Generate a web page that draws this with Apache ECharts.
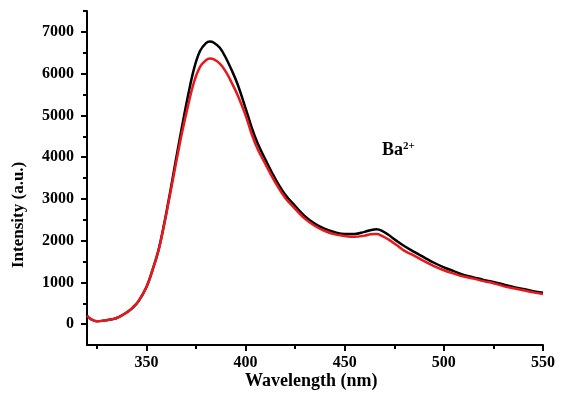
<!DOCTYPE html>
<html>
<head>
<meta charset="utf-8">
<script src="https://cdn.jsdelivr.net/npm/echarts@6/dist/echarts.min.js"></script>
<style>html,body{margin:0;padding:0;background:#fff;}#c{width:561px;height:396px;}</style>
</head>
<body>
<div id="c"></div>
<script>
var wavelengths = [320,322,325,328,330,333,336,340,343,346,350,353,356,359,362,365,368,371,374,377,380,382,384,387,390,393,396,400,403,406,410,415,420,425,430,435,440,445,450,455,460,463,466,469,472,476,480,485,490,495,500,505,510,515,520,525,530,535,540,545,550];
var redSeries = [200,120,70,80,95,120,170,280,390,550,890,1290,1750,2400,3130,3880,4600,5240,5800,6160,6320,6360,6340,6240,6050,5780,5480,5000,4560,4200,3830,3390,3020,2760,2520,2350,2230,2150,2110,2090,2120,2150,2160,2110,2030,1900,1760,1640,1510,1390,1290,1210,1140,1090,1030,980,910,860,810,760,720];
var blackSeries = [200,120,70,80,95,120,170,280,390,550,890,1290,1760,2420,3180,3980,4750,5480,6120,6540,6730,6770,6740,6620,6380,6080,5740,5170,4720,4340,3940,3480,3100,2830,2580,2400,2280,2200,2160,2160,2210,2250,2270,2230,2140,2000,1870,1730,1600,1470,1360,1270,1180,1120,1060,1010,950,890,840,790,750];
var xMajorTicks = [350,400,450,500,550];
var xMinorTicks = [325,375,425,475,525];
var yMajorTicks = [0,1000,2000,3000,4000,5000,6000,7000];
var yMinorTicks = [500,1500,2500,3500,4500,5500,6500,7500];

var FONT = '"Times New Roman","Liberation Serif",serif';
function pairs(ys){ return wavelengths.map(function(x,i){ return [x, ys[i]]; }); }
function plain(v){ return String(v); }

var chart = echarts.init(document.getElementById('c'), null, {renderer:'canvas'});
var axisLineStyle = {show:true, onZero:false, lineStyle:{color:'#000', width:2}};
chart.setOption({
  backgroundColor:'#fff',
  animation:false,
  grid:{left:87, right:18, top:11, bottom:51},
  xAxis:[{
    type:'value', min:320, max:550,
    axisLine:axisLineStyle,
    axisTick:{show:true, customValues:xMajorTicks, length:6, lineStyle:{color:'#000', width:2}},
    axisLabel:{customValues:xMajorTicks, formatter:plain, margin:10, color:'#000', fontFamily:FONT, fontWeight:'bold', fontSize:16},
    splitLine:{show:false}
  },{
    type:'value', min:320, max:550, gridIndex:0, position:'bottom',
    axisLine:{show:false, onZero:false},
    axisTick:{show:true, customValues:xMinorTicks, length:4, lineStyle:{color:'#000', width:2}},
    axisLabel:{show:false},
    splitLine:{show:false}
  }],
  yAxis:[{
    type:'value', min:-500, max:7500,
    axisLine:axisLineStyle,
    axisTick:{show:true, customValues:yMajorTicks, length:6, lineStyle:{color:'#000', width:2}},
    axisLabel:{customValues:yMajorTicks, formatter:plain, margin:13, color:'#000', fontFamily:FONT, fontWeight:'bold', fontSize:16},
    splitLine:{show:false}
  },{
    type:'value', min:-500, max:7500, gridIndex:0, position:'left',
    axisLine:{show:false, onZero:false},
    axisTick:{show:true, customValues:yMinorTicks, length:4, lineStyle:{color:'#000', width:2}},
    axisLabel:{show:false},
    splitLine:{show:false}
  }],
  graphic:[
    {type:'text', left:311-66, top:372, style:{text:'Wavelength (nm)', font:'bold 18px '+FONT, fill:'#000'}},
    {type:'text', x:10, y:268, rotation:Math.PI/2, style:{text:'Intensity (a.u.)', font:'bold 17px '+FONT, fill:'#000', textVerticalAlign:'top'}},
    {type:'text', left:382, top:141, style:{text:'{a|Ba}{b|2+}', rich:{a:{font:'bold 18px '+FONT, fill:'#000'}, b:{font:'bold 11px '+FONT, fill:'#000', verticalAlign:'top', padding:[0,0,8,0]}}}}
  ],
  series:[
    {type:'line', name:'black', data:pairs(blackSeries), showSymbol:false, smooth:0.4, lineStyle:{color:'#000', width:2.5}, xAxisIndex:0, yAxisIndex:0, z:2},
    {type:'line', name:'red', data:pairs(redSeries), showSymbol:false, smooth:0.4, lineStyle:{color:'#e8191c', width:2.5}, xAxisIndex:0, yAxisIndex:0, z:3}
  ]
});
</script>
</body>
</html>
